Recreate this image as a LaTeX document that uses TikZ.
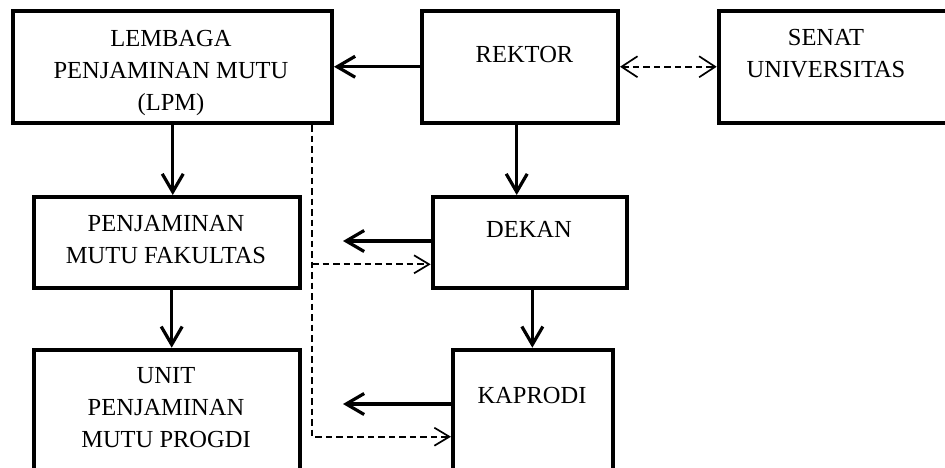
\documentclass[tikz,border=0pt]{standalone}
\usepackage{fontspec}
\setmainfont{Liberation Serif}
\usetikzlibrary{arrows.meta}
\tikzset{
  box/.style={draw, line width=4pt, inner sep=0pt, fill=white},
  txt/.style={anchor=base, inner sep=0pt, font=\fontsize{24.5}{32}\selectfont},
  conn/.style={line width=3.2pt, -{Straight Barb[length=18pt,width=21pt]}},
  dtip/.style={Straight Barb[length=15pt,width=18pt]},
  dconn/.style={line width=1.7pt, dash pattern=on 6.5pt off 4pt, -{Straight Barb[length=15pt,width=18pt]}},
  dbl/.style={line width=1.7pt, dash pattern=on 6.5pt off 4pt,
     {Straight Barb[length=16pt,width=21pt]}-{Straight Barb[length=16pt,width=21pt]}}
}
\newcommand{\ml}[1]{\begin{tabular}[t]{@{}c@{}}#1\end{tabular}}
\begin{document}
\begin{tikzpicture}[x=1pt,y=-1pt]
\useasboundingbox (0,0) rectangle (945,467);
% boxes
\node[box, minimum width=319.5pt, minimum height=112.5pt] (lpm) at (172.25,66.75) {};
\node[box, minimum width=196pt, minimum height=112.5pt] (rektor) at (520,66.75) {};
\node[box, minimum width=241.3pt, minimum height=112.5pt] (senat) at (839.35,66.75) {};
\node[box, minimum width=266pt, minimum height=90.5pt] (pmf) at (166.7,242.25) {};
\node[box, minimum width=194.3pt, minimum height=90.5pt] (dekan) at (529.85,242.25) {};
\node[box, minimum width=266pt, minimum height=150.3pt] (upmp) at (166.7,424.85) {};
\node[box, minimum width=160pt, minimum height=150.3pt] (kaprodi) at (533,424.85) {};
% texts
\node[txt] (lpmT) at (171,46.5) {\ml{LEMBAGA\\PENJAMINAN MUTU\\(LPM)}};
\node[txt] (rektorT) at (524.5,62) {REKTOR};
\node[txt] (senatT) at (826,45.5) {\ml{SENAT\\UNIVERSITAS}};
\node[txt] (pmfT) at (166,231) {\ml{PENJAMINAN\\MUTU FAKULTAS}};
\node[txt] (dekanT) at (529,237) {DEKAN};
\node[txt] (upmpT) at (166,383) {\ml{UNIT\\PENJAMINAN\\MUTU PROGDI}};
\node[txt] (kaprodiT) at (532,403) {KAPRODI};
% free ends
\coordinate (dl) at (343,241);
\coordinate (kl) at (343,404);
\coordinate (dv) at (312,436.7);
\coordinate (dj) at (312,264.3);
% solid connectors
\draw[conn] (rektor.west) -- (lpm.east);
\draw[conn] ([xshift=0.5pt]lpm.south) -- ([xshift=0.5pt]lpm.south |- pmf.north);
\draw[conn] ([xshift=-3.3pt]rektor.south) -- ([xshift=-3.3pt]rektor.south |- dekan.north);
\draw[conn] ([xshift=5pt]pmf.south) -- ([xshift=5pt]pmf.south |- upmp.north);
\draw[conn] ([xshift=2.5pt]dekan.south) -- ([xshift=2.5pt]dekan.south |- kaprodi.north);
\draw[conn] (dekan.west |- dl) -- (dl);
\draw[conn] (kaprodi.west |- kl) -- (kl);
% dashed connectors
\draw[dbl] (rektor.east) -- (senat.west);
\draw[dconn] (lpm.south -| dv) -- (dv) -- (dv -| kaprodi.west);
\draw[dconn] (dj) -- (dj -| dekan.west);
\end{tikzpicture}
\end{document}
